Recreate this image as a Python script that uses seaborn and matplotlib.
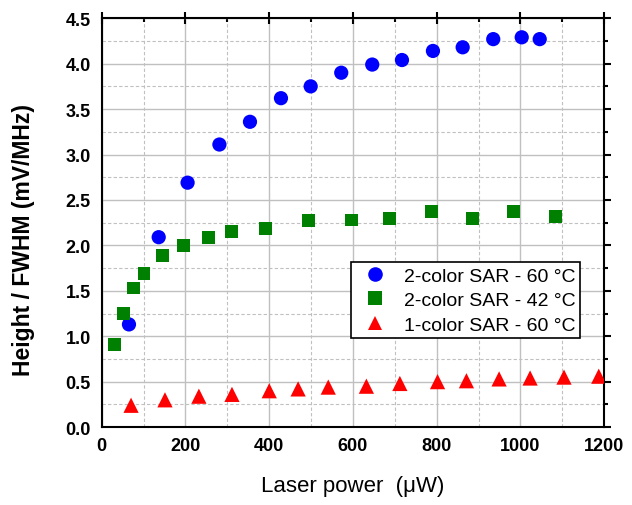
import pandas as pd
import seaborn as sns
import matplotlib.pyplot as plt
import matplotlib.ticker as ticker
from matplotlib.lines import Line2D

# data
power_60_2c = [65, 136, 205, 281, 354, 428, 499, 572, 646, 717, 791, 862, 935, 1003, 1046]
ratio_60_2c = [1.13, 2.09, 2.69, 3.11, 3.36, 3.62, 3.75, 3.90, 3.99, 4.04, 4.14, 4.18, 4.27, 4.29, 4.27]

power_42_2c = [31, 52, 76, 101, 145, 196, 254, 310, 392, 494, 596, 687, 787, 885, 983, 1084]
ratio_42_2c = [0.91, 1.25, 1.53, 1.69, 1.89, 2.00, 2.09, 2.15, 2.19, 2.27, 2.28, 2.30, 2.37, 2.30, 2.37, 2.32]

power_60_1c = [70, 151, 232, 311, 400, 469, 541, 632, 712, 802, 871, 949, 1023, 1104, 1187]
ratio_60_1c = [0.24, 0.30, 0.34, 0.36, 0.40, 0.42, 0.44, 0.45, 0.48, 0.50, 0.51, 0.53, 0.54, 0.55, 0.56]

labels = ["2-color SAR - 60 °C", "2-color SAR - 42 °C", "1-color SAR - 60 °C"]
colors = {labels[0]: "#0000ff", labels[1]: "#008000", labels[2]: "#ff0000"}
markers = {labels[0]: "o", labels[1]: "s", labels[2]: "^"}
sizes = {labels[0]: 105, labels[1]: 85, labels[2]: 120}

df = pd.concat([
    pd.DataFrame({"power": power_60_2c, "ratio": ratio_60_2c, "series": labels[0]}),
    pd.DataFrame({"power": power_42_2c, "ratio": ratio_42_2c, "series": labels[1]}),
    pd.DataFrame({"power": power_60_1c, "ratio": ratio_60_1c, "series": labels[2]}),
])

sns.set_style("white")
plt.rcParams["font.family"] = ["Liberation Sans", "DejaVu Sans"]
plt.rcParams["text.color"] = "black"
plt.rcParams["axes.labelcolor"] = "black"

fig = plt.figure(figsize=(6.32, 5.06), dpi=100)
ax = fig.add_axes([0.161, 0.154, 0.795, 0.808])

for lab in labels:
    sub = df[df["series"] == lab]
    sns.scatterplot(data=sub, x="power", y="ratio", color=colors[lab], marker=markers[lab],
                    s=sizes[lab], edgecolor="none", linewidth=0, ax=ax, legend=False, zorder=3)

ax.set_xlim(0, 1200)
ax.set_ylim(0, 4.5)
ax.xaxis.set_major_locator(ticker.MultipleLocator(200))
ax.xaxis.set_minor_locator(ticker.MultipleLocator(100))
ax.yaxis.set_major_locator(ticker.MultipleLocator(0.5))
ax.yaxis.set_minor_locator(ticker.MultipleLocator(0.25))
ax.yaxis.set_major_formatter(ticker.FormatStrFormatter("%.1f"))

ax.grid(which="major", color="#c0c0c0", linestyle="-", linewidth=1.0, zorder=0)
ax.grid(which="minor", color="#c0c0c0", linestyle=(0, (3, 2)), linewidth=0.8, zorder=0)
ax.set_axisbelow(True)

for sp in ax.spines.values():
    sp.set_color("black")
    sp.set_linewidth(1.5)

ax.tick_params(axis="both", which="both", top=True, right=True, colors="black", labelsize=13, width=1.5)
ax.tick_params(axis="both", which="major", length=5, pad=3)
ax.tick_params(axis="both", which="minor", length=3)
ax.tick_params(axis="x", which="major", direction="inout", length=8)
ax.tick_params(axis="x", which="minor", direction="in")
ax.tick_params(axis="y", which="both", direction="out")
for t in ax.get_xticklabels() + ax.get_yticklabels():
    t.set_fontweight("bold")

ax.set_xlabel("Laser power  (\u03bcW)", fontsize=16, color="black")
ax.set_ylabel("Height / FWHM (mV/MHz)", fontsize=16.5, fontweight="bold", color="black")
ax.xaxis.set_label_coords(0.5, -0.118)
ax.yaxis.set_label_coords(-0.133, 0.46)

handles = [Line2D([], [], linestyle="none", marker=markers[l], color=colors[l],
                  markersize=10.5, markeredgewidth=0) for l in labels]
leg = ax.legend(handles, labels, loc="upper right", bbox_to_anchor=(0.952, 0.403),
                fontsize=14, frameon=True, fancybox=False, framealpha=1,
                edgecolor="black", borderpad=0.25, handletextpad=0.45, labelspacing=0.35,
                borderaxespad=0, labelcolor="black")
leg.get_frame().set_linewidth(1.2)

fig.savefig("out.png", dpi=100)
